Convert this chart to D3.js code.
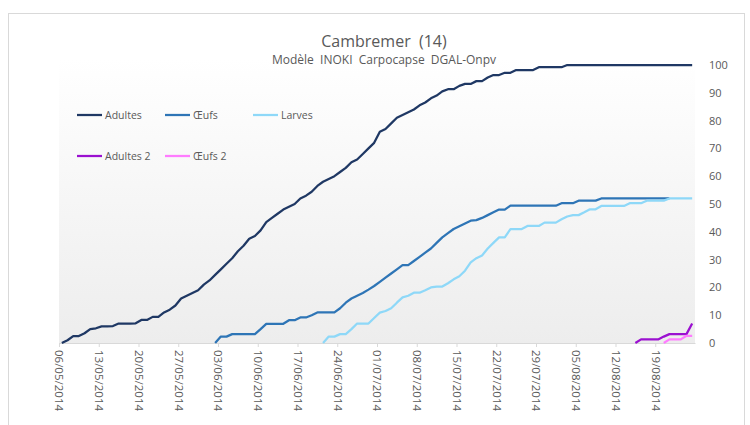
<!DOCTYPE html>
<html>
<head>
<meta charset="utf-8">
<script src="https://cdn.jsdelivr.net/npm/d3@7"></script>
<style>
  body { margin: 0; background: #fff; }
  svg { display: block; font-family: "Open Sans", "Noto Sans", sans-serif; }
</style>
</head>
<body>
<svg id="chart" width="750" height="425"></svg>
<script>
// ---- Data (cumulative %, one value per day, starting at the given date) ----
const axisStart = "2014-05-06";
const axisDays = 112;
const tickDates = ["2014-05-06","2014-05-13","2014-05-20","2014-05-27","2014-06-03","2014-06-10",
  "2014-06-17","2014-06-24","2014-07-01","2014-07-08","2014-07-15","2014-07-22","2014-07-29",
  "2014-08-05","2014-08-12","2014-08-19"];
const yTicks = [0,10,20,30,40,50,60,70,80,90,100];

const adultesStart = "2014-05-06";
const adultes = [0,1,2.5,2.5,3.5,5,5.3,6,6,6.1,7,7,7,7.1,8.3,8.3,9.4,9.4,11,12,13.5,16,17,18,19,21,
  22.5,24.5,26.5,28.5,30.5,33,35,37.5,38.5,40.5,43.5,45,46.5,48,49,50,52,53,54.4,56.5,58,59,60,61.5,
  63,65,66,68,70,72,76,77,79,81,82,83,84,85.5,86.5,88,89,90.5,91.3,91.3,92.5,93.2,93.2,94.2,94.2,
  95.5,96.4,96.4,97.2,97.2,98.2,98.2,98.2,98.2,99.2,99.2,99.2,99.2,99.2,100,100,100,100,100,100,100,
  100,100,100,100,100,100,100,100,100,100,100,100,100,100,100,100];

const oeufsStart = "2014-06-02";
const oeufs = [0,2.3,2.3,3.2,3.2,3.2,3.2,3.2,5,6.9,6.9,6.9,6.9,8.2,8.2,9.2,9.2,10,11,11,11,11,12.5,
  14.5,16,17,18,19.2,20.5,22,23.5,25,26.5,28,28,29.5,31,32.5,34,36,38,39.5,41,42,43,44,44.2,45,46,47,
  48,48,49.4,49.4,49.4,49.4,49.4,49.4,49.4,49.4,49.4,50.3,50.3,50.3,51.2,51.2,51.2,51.2,52,52,52,52,
  52,52,52,52,52,52,52,52,52];

const larvesStart = "2014-06-21";
const larves = [0,2.3,2.3,3.2,3.2,5,7,7,7,9,10.9,11.5,12.5,14.5,16.4,17,18.1,18.1,19,20,20.3,20.3,
  21.5,22.9,24,26,29,30.5,31.5,34,36,38,38,41,41,41,42.1,42.1,42.1,43.3,43.3,43.3,44.5,45.5,46,46,
  47,48.1,48.1,49.3,49.3,49.3,49.3,49.3,50.3,50.3,50.3,51.2,51.2,51.2,51.2,52,52,52,52,52];

const adultes2Start = "2014-08-15";
const adultes2 = [0,1.3,1.3,1.3,1.3,2.3,3.2,3.2,3.2,3.2,7];

const oeufs2Start = "2014-08-20";
const oeufs2 = [0,1.3,1.3,1.3,2.6,2.6];

const seriesNames = ["Adultes","Œufs","Larves","Adultes 2","Œufs 2"];
const seriesColors = ["#1f3864","#2e75b6","#8ed8f8","#9b10d0","#ff7cff"];

// ---- Build ----
const parse = d3.utcParse("%Y-%m-%d");
const series = [
  {name: seriesNames[0], start: adultesStart, values: adultes, color: seriesColors[0]},
  {name: seriesNames[1], start: oeufsStart, values: oeufs, color: seriesColors[1]},
  {name: seriesNames[2], start: larvesStart, values: larves, color: seriesColors[2]},
  {name: seriesNames[3], start: adultes2Start, values: adultes2, color: seriesColors[3]},
  {name: seriesNames[4], start: oeufs2Start, values: oeufs2, color: seriesColors[4]}
].map(s => ({...s, points: s.values.map((v, i) => ({date: d3.utcDay.offset(parse(s.start), i), v}))}));

const svg = d3.select("#chart");
const W = 750, H = 425;
const plot = {left: 59, right: 695, top: 58, bottom: 343};

// outer border
svg.append("rect").attr("x", 8.5).attr("y", 13.5).attr("width", 736).attr("height", 430)
  .attr("fill", "#fff").attr("stroke", "#d9d9d9").attr("stroke-width", 1);

// gradient plot background
const defs = svg.append("defs");
const grad = defs.append("linearGradient").attr("id", "bg").attr("x1", 0).attr("y1", 0).attr("x2", 0).attr("y2", 1);
grad.append("stop").attr("offset", "0%").attr("stop-color", "#ffffff");
grad.append("stop").attr("offset", "100%").attr("stop-color", "#ededed");
svg.append("rect").attr("x", plot.left).attr("y", plot.top)
  .attr("width", plot.right - plot.left).attr("height", plot.bottom - plot.top)
  .attr("fill", "url(#bg)");

const x0 = parse(axisStart);
const x = d3.scaleUtc().domain([x0, d3.utcDay.offset(x0, axisDays)]).range([plot.left, plot.right]);
const y = d3.scaleLinear().domain([0, 100]).range([343, 65]);
const halfDay = 12 * 3600 * 1000;

// x axis
const xAxis = d3.axisBottom(x).tickValues(tickDates.map(parse)).tickFormat(d3.utcFormat("%d/%m/%Y")).tickSizeInner(4).tickSizeOuter(0);
const gx = svg.append("g").attr("transform", `translate(0,${plot.bottom})`).call(xAxis);
gx.select(".domain").attr("stroke", "#d9d9d9");
gx.selectAll(".tick line").attr("stroke", "#d9d9d9");
gx.selectAll(".tick text")
  .attr("x", 0).attr("y", 0).attr("dy", "0.35em")
  .attr("transform", "translate(0,7) rotate(90)")
  .attr("text-anchor", "start")
  .attr("fill", "#595959").attr("font-size", "11.5px")
  .attr("font-family", "'Open Sans', sans-serif");

// y axis on right
const yAxis = d3.axisRight(y).tickValues(yTicks).tickSize(0).tickPadding(0);
const gy = svg.append("g").attr("transform", "translate(709,0)").call(yAxis);
gy.select(".domain").remove();
gy.selectAll(".tick text").attr("fill", "#595959").attr("font-size", "11px")
  .attr("font-family", "'Open Sans', sans-serif").attr("x", 0);

// lines
const line = d3.line().x(d => x(new Date(d.date.getTime() + halfDay))).y(d => y(d.v));
svg.append("g").selectAll("path").data(series).join("path")
  .attr("d", s => line(s.points))
  .attr("fill", "none").attr("stroke", s => s.color)
  .attr("stroke-width", 2.25).attr("stroke-linejoin", "round").attr("stroke-linecap", "butt");

// title
svg.append("text").attr("x", 384).attr("y", 47).attr("text-anchor", "middle")
  .attr("fill", "#595959").attr("font-size", "16px").style("white-space", "pre")
  .text("Cambremer  (14)");
svg.append("text").attr("x", 384).attr("y", 64).attr("text-anchor", "middle")
  .attr("fill", "#595959").attr("font-size", "12px").style("white-space", "pre")
  .text("Modèle  INOKI  Carpocapse  DGAL-Onpv");

// legend
const legendPos = [[77,115],[165,115],[253,115],[77,156],[165,156]];
const lg = svg.append("g").selectAll("g").data(series).join("g")
  .attr("transform", (d, i) => `translate(${legendPos[i][0]},${legendPos[i][1]})`);
lg.append("line").attr("x1", 0).attr("x2", 25).attr("y1", 0).attr("y2", 0)
  .attr("stroke", d => d.color).attr("stroke-width", 2.25);
lg.append("text").attr("x", 28).attr("y", 0).attr("dy", "0.35em")
  .attr("fill", "#595959").attr("font-size", "10.5px").text(d => d.name);
</script>
</body>
</html>
